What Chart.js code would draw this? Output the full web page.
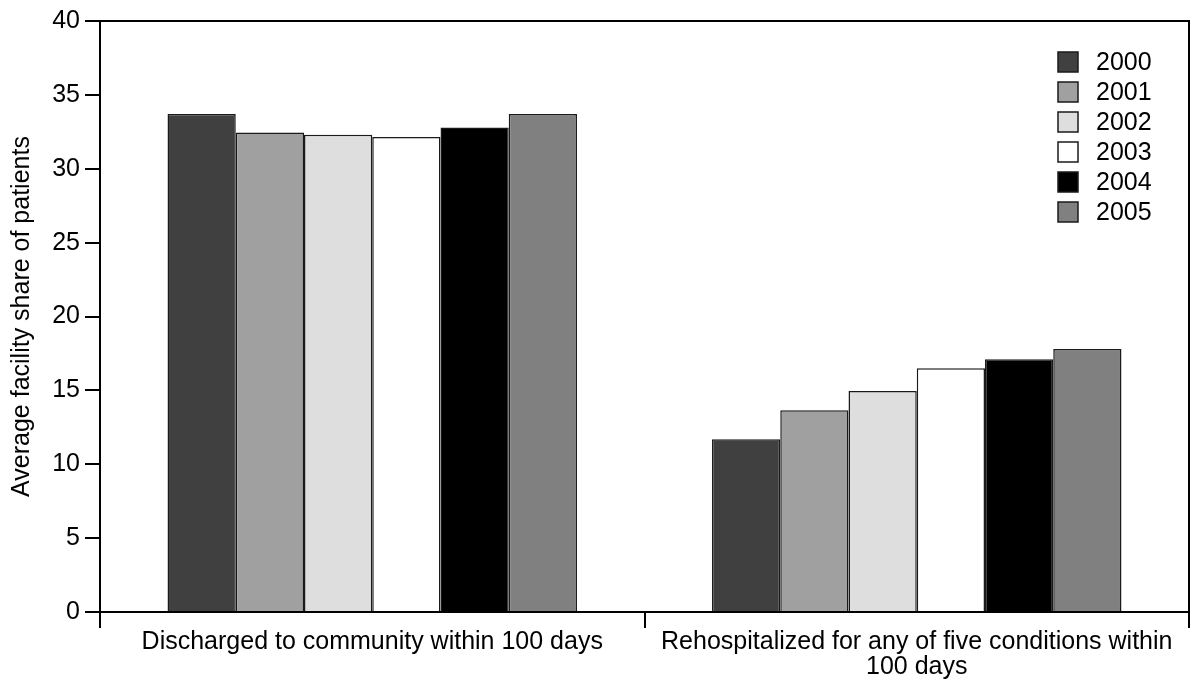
<!DOCTYPE html>
<html>
<head>
<meta charset="utf-8">
<script src="https://cdn.jsdelivr.net/npm/chart.js@4"></script>
<style>
  html, body { margin: 0; padding: 0; background: #fff; }
  #wrap { width: 1194px; height: 687px; }
</style>
</head>
<body>
<div id="wrap"><canvas id="chart" width="1194" height="687"></canvas></div>
<script>
const categories = [
  "Discharged to community within 100 days",
  ["Rehospitalized for any of five conditions within", "100 days"]
];
const years = ["2000", "2001", "2002", "2003", "2004", "2005"];
const colors = ["#404040", "#a0a0a0", "#dedede", "#ffffff", "#000000", "#808080"];

const v2000 = [33.7, 11.7];
const v2001 = [32.45, 13.65];
const v2002 = [32.3, 14.95];
const v2003 = [32.15, 16.5];
const v2004 = [32.8, 17.1];
const v2005 = [33.7, 17.8];
const series = [v2000, v2001, v2002, v2003, v2004, v2005];

const yTicks = [0, 5, 10, 15, 20, 25, 30, 35, 40];

const FONT = "'Liberation Sans', Arial, sans-serif";

// frame around the plot area (top and right edges)
const framePlugin = {
  id: "frame",
  afterDatasetsDraw(chart) {
    const { ctx, chartArea: a } = chart;
    ctx.save();
    ctx.strokeStyle = "#000";
    ctx.lineWidth = 2;
    ctx.beginPath();
    ctx.moveTo(a.left, a.top);
    ctx.lineTo(a.right, a.top);
    ctx.lineTo(a.right, a.bottom);
    ctx.stroke();
    ctx.restore();
  }
};

// legend drawn inside the plot, top right
const innerLegend = {
  id: "innerLegend",
  afterDraw(chart) {
    const { ctx, chartArea: a } = chart;
    const x = a.right - 131;
    let y = a.top + 41;
    ctx.save();
    ctx.font = "25px " + FONT;
    ctx.textBaseline = "middle";
    chart.data.datasets.forEach(ds => {
      ctx.fillStyle = ds.backgroundColor;
      ctx.fillRect(x, y - 10, 20, 20);
      ctx.strokeStyle = "#1a1a1a";
      ctx.lineWidth = 1.5;
      ctx.strokeRect(x, y - 10, 20, 20);
      ctx.fillStyle = "#000";
      ctx.fillText(ds.label, x + 38, y + 1);
      y += 30;
    });
    ctx.restore();
  }
};

new Chart(document.getElementById("chart"), {
  type: "bar",
  data: {
    labels: categories,
    datasets: years.map((yr, i) => ({
      label: yr,
      data: series[i],
      backgroundColor: colors[i],
      borderColor: "#1a1a1a",
      borderWidth: 1.5,
      barPercentage: 1,
      categoryPercentage: 0.752
    }))
  },
  options: {
    responsive: false,
    animation: false,
    layout: { padding: { top: 21, right: 5 } },
    plugins: {
      legend: { display: false },
      tooltip: { enabled: false }
    },
    scales: {
      x: {
        grid: {
          offset: true,
          drawOnChartArea: false,
          drawTicks: true,
          tickLength: 16,
          color: "#000",
          lineWidth: 2
        },
        border: { color: "#000", width: 2 },
        ticks: {
          color: "#000",
          font: { family: FONT, size: 25, lineHeight: 1 },
          padding: 2,
          maxRotation: 0,
          autoSkip: false
        },
        afterFit(scale) { scale.height = 75; }
      },
      y: {
        min: 0,
        max: 40,
        afterBuildTicks(scale) {
          scale.ticks = yTicks.map(v => ({ value: v }));
        },
        grid: {
          drawOnChartArea: false,
          drawTicks: true,
          tickLength: 15,
          color: "#000",
          lineWidth: 2
        },
        border: { color: "#000", width: 2 },
        ticks: {
          color: "#000",
          font: { family: FONT, size: 25 },
          padding: 5
        },
        title: {
          display: true,
          text: "Average facility share of patients",
          color: "#000",
          font: { family: FONT, size: 25 },
          padding: { top: 7, bottom: 0 }
        },
        afterFit(scale) { scale.width = 100; }
      }
    }
  },
  plugins: [framePlugin, innerLegend]
});
</script>
</body>
</html>
